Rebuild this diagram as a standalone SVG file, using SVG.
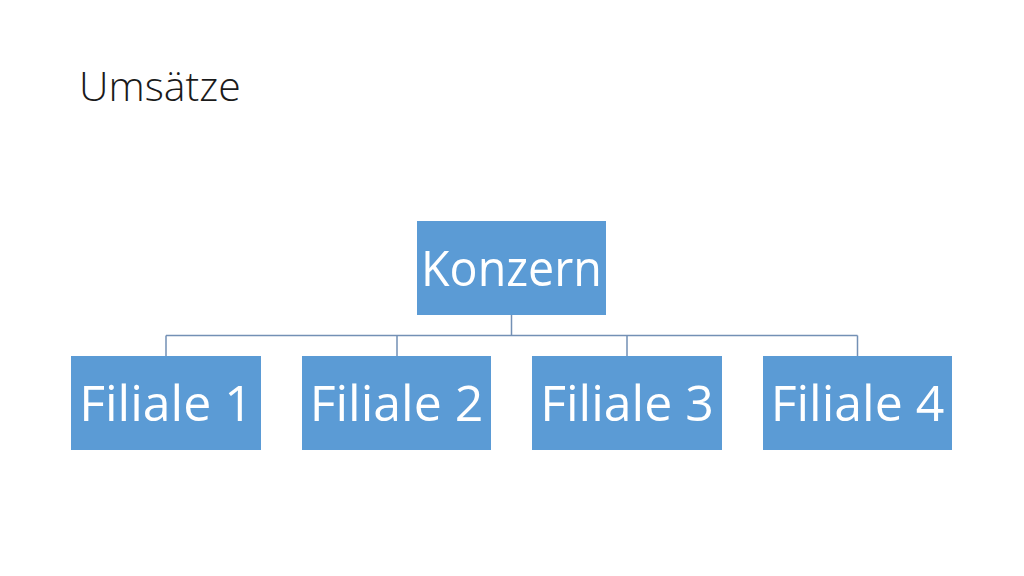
<svg xmlns="http://www.w3.org/2000/svg" width="1024" height="576" viewBox="0 0 1024 576">
<style>
.box{fill:#5B9BD5}
.lbl{fill:#FFFFFF;font-family:"Open Sans","Noto Sans","Liberation Sans",sans-serif;font-size:50px;text-anchor:middle}
.ln{stroke:#7390B5;stroke-width:1.5;fill:none}
.title{fill:#1a1a1a;font-family:"Open Sans","Noto Sans","Liberation Sans",sans-serif;font-weight:300;font-size:41px}
</style>
<rect width="1024" height="576" fill="#FFFFFF"/>
<text class="title" x="79" y="101">Umsätze</text>
<g id="connectors">
<path class="ln" d="M511.5 315V335.5M166 335.5H857.5M166 335.5V356M397 335.5V356M627 335.5V356M857.5 335.5V356"/>
</g>
<g id="konzern"><rect class="box" x="417" y="221" width="189" height="94"/><text class="lbl" x="511.5" y="286" textLength="181" lengthAdjust="spacingAndGlyphs">Konzern</text></g>
<g id="filiale1"><rect class="box" x="71" y="356" width="190" height="94"/><text class="lbl" x="166" y="421">Filiale 1</text></g>
<g id="filiale2"><rect class="box" x="302" y="356" width="189" height="94"/><text class="lbl" x="396.5" y="421">Filiale 2</text></g>
<g id="filiale3"><rect class="box" x="532" y="356" width="190" height="94"/><text class="lbl" x="627" y="421">Filiale 3</text></g>
<g id="filiale4"><rect class="box" x="763" y="356" width="189" height="94"/><text class="lbl" x="857.5" y="421">Filiale 4</text></g>
</svg>
